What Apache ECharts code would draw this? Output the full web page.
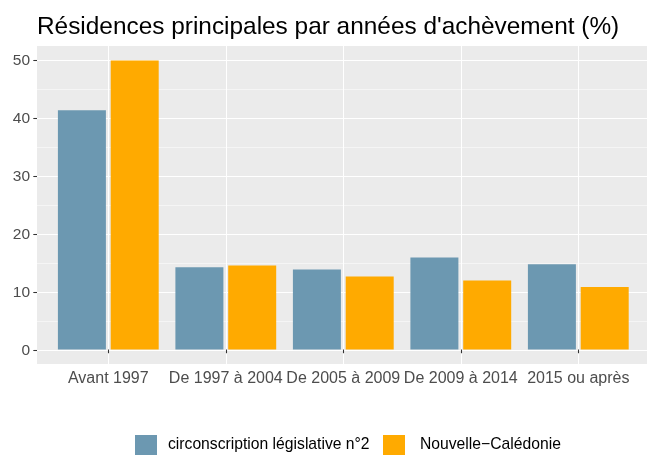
<!DOCTYPE html>
<html>
<head>
<meta charset="utf-8">
<script src="https://cdn.jsdelivr.net/npm/echarts@6/dist/echarts.min.js"></script>
<style>
  html, body { margin: 0; padding: 0; background: #fff; }
  #chart { width: 647px; height: 455px; }
</style>
</head>
<body>
<div id="chart"></div>
<script>
// données
var categories = ['Avant 1997', 'De 1997 à 2004', 'De 2005 à 2009', 'De 2009 à 2014', '2015 ou après']
var circo = [41.3, 14.2, 13.8, 15.9, 14.7]
var caledonie = [49.9, 14.5, 12.6, 11.9, 10.8]
var yTicks = [0, 10, 20, 30, 40, 50]

var font = 'Liberation Sans, Arial, sans-serif'
var grey = '#4D4D4D'

var chart = echarts.init(document.getElementById('chart'))
var option = {
  animation: false,
  title: {
    text: 'Résidences principales par années d\'achèvement (%)',
    left: 32,
    top: 10,
    textStyle: { fontFamily: font, fontSize: 24.4, fontWeight: 'normal', color: '#000' }
  },
  legend: [
    {
      data: ['circonscription législative n°2'],
      left: 135,
      top: 435,
      padding: 0,
      icon: 'rect',
      itemWidth: 22,
      itemHeight: 20,
      textStyle: { fontFamily: font, fontSize: 15.7, color: '#000', padding: [2, 0, 0, 6] }
    },
    {
      data: ['Nouvelle−Calédonie'],
      left: 383,
      top: 435,
      padding: 0,
      icon: 'rect',
      itemWidth: 22,
      itemHeight: 20,
      textStyle: { fontFamily: font, fontSize: 15.7, color: '#000', padding: [2, 0, 0, 10] }
    }
  ],
  grid: [
    // fond du panneau
    { left: 37, right: 0, top: 46, bottom: 91, show: true, backgroundColor: '#EBEBEB', borderWidth: 0 },
    // lignes horizontales + étiquettes y
    { left: 37, right: 0, top: 60.3, bottom: 104.7 },
    // barres + lignes verticales + étiquettes x
    { left: 108.3, right: 68.7, top: 46, bottom: 91 }
  ],
  xAxis: [
    { gridIndex: 0, type: 'value', show: false },
    { gridIndex: 1, type: 'value', show: false },
    {
      gridIndex: 2,
      type: 'category',
      data: categories,
      boundaryGap: false,
      axisLine: { show: false },
      axisTick: { show: true, length: 3.7, interval: 0, lineStyle: { color: '#333', width: 1.07 } },
      axisLabel: { interval: 0, margin: 7, color: grey, fontFamily: font, fontSize: 16 },
      splitLine: { show: true, interval: 0, lineStyle: { color: '#fff', width: 1.07 } }
    }
  ],
  yAxis: [
    { gridIndex: 0, type: 'value', show: false },
    {
      gridIndex: 1,
      type: 'value',
      min: yTicks[0],
      max: yTicks[yTicks.length - 1],
      interval: 10,
      axisLine: { show: false },
      axisTick: { show: true, length: 3.7, lineStyle: { color: '#333', width: 1.07 } },
      axisLabel: { margin: 7, color: grey, fontFamily: font, fontSize: 15.5 },
      splitLine: { show: true, lineStyle: { color: '#fff', width: 1.07 } },
      minorTick: { show: false, splitNumber: 2 },
      minorSplitLine: { show: true, lineStyle: { color: '#fff', width: 0.53 } }
    },
    { gridIndex: 2, type: 'value', min: -2.5, max: 52.4, show: false }
  ],
  series: [
    {
      name: 'circonscription législative n°2',
      type: 'bar',
      xAxisIndex: 2,
      yAxisIndex: 2,
      data: circo,
      barWidth: 48,
      barGap: '10%',
      itemStyle: { color: '#6C98B1' }
    },
    {
      name: 'Nouvelle−Calédonie',
      type: 'bar',
      xAxisIndex: 2,
      yAxisIndex: 2,
      data: caledonie,
      barWidth: 48,
      barGap: '10%',
      itemStyle: { color: '#FFAA00' }
    }
  ]
}
chart.setOption(option)
</script>
</body>
</html>
